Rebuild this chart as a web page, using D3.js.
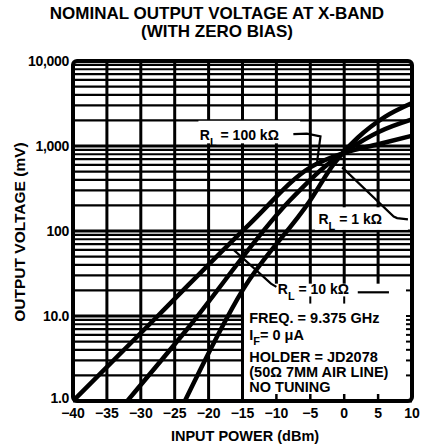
<!DOCTYPE html>
<html><head><meta charset="utf-8">
<script src="https://cdn.jsdelivr.net/npm/d3@7"></script>
<style>
html,body{margin:0;padding:0;background:#fff;}
text{font-family:"Liberation Sans",Arial,sans-serif;font-weight:bold;fill:#000;}
</style></head>
<body>
<svg id="chart" width="427" height="448"></svg>
<script>
// ---- data ----
const titleLines = ["NOMINAL OUTPUT VOLTAGE AT X-BAND", "(WITH ZERO BIAS)"];
const xTickValues = [-40, -35, -30, -25, -20, -15, -10, -5, 0, 5, 10];
const xTickLabels = ["\u221240", "\u221235", "\u221230", "\u221225", "\u221220", "\u221215", "\u221210", "\u22125", "0", "5", "10"];
const yTickValues = [1, 10, 100, 1000, 10000];
const yTickLabels = ["1.0", "10.0", "100", "1,000", "10,000"];
const xTitle = "INPUT POWER (dBm)";
const yTitle = "OUTPUT VOLTAGE (mV)";

const powerRL100k = [-40, -27.5, -14, -5, 0, 5, 10];
const voltRL100k  = [1, 10, 120, 560, 830, 1050, 1320];
const powerRL10k  = [-32, -23.3, -8, -3, 1, 5, 10];
const voltRL10k   = [1, 6.8, 230, 560, 950, 1450, 2050];
const powerRL1k   = [-23.5, -15, -5, -1.5, 2, 6, 10];
const voltRL1k    = [1, 20, 230, 620, 1250, 2200, 3200];

const noteLines = ["FREQ. = 9.375 GHz", "HOLDER = JD2078", "(50\u03A9 7MM AIR LINE)", "NO TUNING"];

// ---- scales ----
const svg = d3.select("#chart");
const x = d3.scaleLinear().domain([-40, 10]).range([73, 412]);
const y = d3.scaleLog().domain([1, 10000]).range([401, 61]);
const X0 = x(-40), X1 = x(10), Y0 = y(1), Y1 = y(10000);

// title
svg.append("text").attr("x", 217).attr("y", 19).attr("text-anchor", "middle")
  .style("font-size", "17px").text(titleLines[0]);
svg.append("text").attr("x", 217).attr("y", 37).attr("text-anchor", "middle")
  .style("font-size", "17px").text(titleLines[1]);

// horizontal log grid
const gridVals = [];
[1, 10, 100, 1000].forEach(d => { for (let k = 1; k <= 9; k++) gridVals.push(k * d); });
svg.append("g").selectAll("line").data(gridVals).join("line")
  .attr("x1", X0).attr("x2", X1)
  .attr("y1", d => y(d)).attr("y2", d => y(d))
  .attr("stroke", "#000").attr("stroke-width", d => (Math.log10(d) % 1 === 0) ? 3 : 2.2);

// vertical grid
svg.append("g").selectAll("line").data(xTickValues.slice(1, -1)).join("line")
  .attr("x1", d => x(d)).attr("x2", d => x(d))
  .attr("y1", Y1).attr("y2", Y0)
  .attr("stroke", "#000").attr("stroke-width", 3);

// white label boxes
const boxes = [
  {x0: -21.5, x1: -6.5, v0: 1980, v1: 1075},   // RL=100k
  {x0: -4.3,  x1: 9.4,  v0: 190,  v1: 103},    // RL=1k
];
svg.append("g").selectAll("rect").data(boxes).join("rect")
  .attr("x", d => x(d.x0)).attr("width", d => x(d.x1) - x(d.x0))
  .attr("y", d => y(d.v0)).attr("height", d => y(d.v1) - y(d.v0))
  .attr("fill", "#fff");

// annotation box (lower right)
const boxLeft = x(-15) + 1.5, boxTop = y(24), boxRight = X1 - 2, boxBottom = Y0 - 2;
svg.append("rect").attr("x", boxLeft).attr("y", boxTop)
  .attr("width", boxRight - boxLeft).attr("height", boxBottom - boxTop).attr("fill", "#fff");
// stubs at bottom and top of box
svg.append("g").selectAll("line").data([-10, -5, 0, 5]).join("line")
  .attr("x1", d => x(d)).attr("x2", d => x(d)).attr("y1", Y0 - 7).attr("y2", Y0)
  .attr("stroke", "#000").attr("stroke-width", 2.5);
svg.append("g").selectAll("line").data([-5, 0]).join("line")
  .attr("x1", d => x(d)).attr("x2", d => x(d)).attr("y1", y(17)).attr("y2", y(14))
  .attr("stroke", "#000").attr("stroke-width", 2);
// stubs on right edge
svg.append("g").selectAll("line").data(gridVals.filter(v => y(v) > boxTop + 2 && y(v) < boxBottom - 2)).join("line")
  .attr("x1", X1 - 6).attr("x2", X1).attr("y1", d => y(d)).attr("y2", d => y(d))
  .attr("stroke", "#000").attr("stroke-width", 2);

// curves
svg.append("clipPath").attr("id", "pc").append("rect")
  .attr("x", X0).attr("y", Y1).attr("width", X1 - X0).attr("height", Y0 - Y1);
const line = d3.line().x(d => x(d[0])).y(d => y(d[1])).curve(d3.curveMonotoneX);
const series = [
  d3.zip(powerRL100k, voltRL100k),
  d3.zip(powerRL10k, voltRL10k),
  d3.zip(powerRL1k, voltRL1k)
];
svg.append("g").attr("clip-path", "url(#pc)").selectAll("path").data(series).join("path")
  .attr("d", line).attr("fill", "none").attr("stroke", "#000").attr("stroke-width", 4.5);

// border
svg.append("rect").attr("x", X0).attr("y", Y1).attr("width", X1 - X0).attr("height", Y0 - Y1)
  .attr("rx", 4).attr("fill", "none").attr("stroke", "#000").attr("stroke-width", 4);

// RL labels with leaders
function rl(xp, yp, val) {
  const t = svg.append("text").attr("x", xp).attr("y", yp).style("font-size", "14px");
  t.append("tspan").text("R");
  t.append("tspan").attr("dy", 6).style("font-size", "11px").text("L");
  t.append("tspan").attr("dy", -6).text(" = " + val);
  return t;
}
rl(x(-21.3), y(1350) + 5, "100 k\u03A9");
rl(x(-3.8), y(140) + 5, "1 k\u03A9");
rl(x(-9.8), y(20) + 4, "10 k\u03A9");

const leaders = [
  [[x(-7.5), y(1380)], [x(-5.5), y(1400)], [x(-3.5), y(1300)], [x(-4.0), y(650)]],
  [[x(9.4), y(137)], [x(7.8), y(142)], [x(7.3), y(148)], [x(-0.3), y(560)]],
  [[x(-10.0), y(22)], [x(-10.8), y(24)], [x(-16.3), y(60)]],
  [[x(2.0), y(19)], [x(6.6), y(19)]]
];
svg.append("g").selectAll("path").data(leaders).join("path")
  .attr("d", d3.line().curve(d3.curveLinear))
  .attr("fill", "none").attr("stroke", "#000").attr("stroke-width", 2.2);

// notes
const noteY = [318, 357, 372, 387];
noteLines.forEach((s, i) => {
  svg.append("text").attr("x", x(-14)).attr("y", noteY[i] + 5).style("font-size", "14.5px").text(s);
});
const ifT = svg.append("text").attr("x", x(-14)).attr("y", 340).style("font-size", "14.5px");
ifT.append("tspan").text("I");
ifT.append("tspan").attr("dy", 5).style("font-size", "11px").text("F");
ifT.append("tspan").attr("dy", -5).text("= 0 \u03BCA");

// tick labels
svg.append("g").selectAll("text").data(xTickValues).join("text")
  .attr("x", d => x(d)).attr("y", 418).attr("text-anchor", "middle")
  .style("font-size", "14px").text((d, i) => xTickLabels[i]);
svg.append("g").selectAll("text").data(yTickValues).join("text")
  .attr("x", 69).attr("y", d => y(d) + 5 - (d === 1 ? 3 : 0)).attr("text-anchor", "end")
  .style("font-size", "14px").style("letter-spacing", "-0.3px").text((d, i) => yTickLabels[i]);

// axis titles
svg.append("text").attr("x", 245).attr("y", 441).attr("text-anchor", "middle")
  .style("font-size", "14.5px").text(xTitle);
svg.append("text").attr("transform", "translate(25,232) rotate(-90)").attr("text-anchor", "middle")
  .style("font-size", "15.5px").text(yTitle);
</script>
</body></html>
